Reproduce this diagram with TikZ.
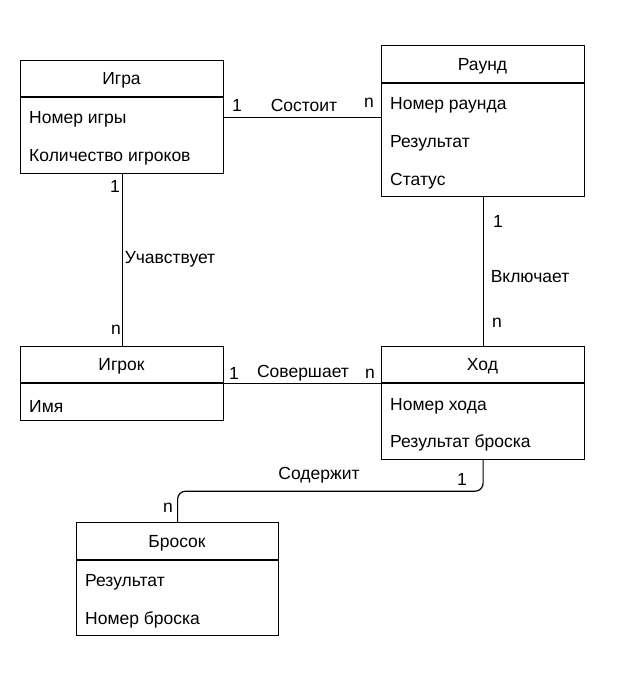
\documentclass[tikz,border=0pt]{standalone}
\usepackage{fontspec}
\setmainfont{Liberation Sans}
\usetikzlibrary{positioning}

\begin{document}
\begin{tikzpicture}[x=1pt, y=-1pt,
    entity/.style={draw, line width=1.2pt, anchor=north west, inner sep=0pt, minimum width=203pt},
    title/.style={font=\fontsize{17.5}{20}\selectfont, inner sep=0pt},
    attr/.style={font=\fontsize{17.5}{20}\selectfont, anchor=west, inner sep=0pt},
    rel/.style={font=\fontsize{17.5}{20}\selectfont, inner sep=0pt},
    link/.style={line width=1.2pt}]
    \useasboundingbox (0,0) rectangle (623,677);
    % Draw the entities
    \node[entity, minimum height=113pt] (igra) at (20,60) {};
    \node[entity, minimum height=151pt] (raund) at (381,45) {};
    \node[entity, minimum height=74pt] (igrok) at (20,346) {};
    \node[entity, minimum height=113pt] (hod) at (381,346) {};
    \node[entity, minimum height=113pt, minimum width=202pt] (brosok) at (76,522) {};
    % Draw header lines
    \draw[link] (igra.north west) ++(0,37) -- ++(203,0);
    \draw[link] (raund.north west) ++(0,38) -- ++(203,0);
    \draw[link] (igrok.north west) ++(0,37) -- ++(203,0);
    \draw[link] (hod.north west) ++(0,37) -- ++(203,0);
    \draw[link] (brosok.north west) ++(0,38) -- ++(202,0);
    % Titles and attributes
    \node[title] (igraT) at (121.5,80) {Игра};
    \node[attr] (igraA) at (29,119) {Номер игры};
    \node[attr] (igraB) at (29,157) {Количество игроков};
    \node[title] (raundT) at (482.5,66) {Раунд};
    \node[attr] (raundA) at (390,105) {Номер раунда};
    \node[attr] (raundB) at (390,143) {Результат};
    \node[attr] (raundC) at (390,181) {Статус};
    \node[title] (igrokT) at (121.5,366) {Игрок};
    \node[attr] (igrokA) at (29,406) {Имя};
    \node[title] (hodT) at (482.5,366) {Ход};
    \node[attr] (hodA) at (390,406) {Номер хода};
    \node[attr] (hodB) at (390,443) {Результат броска};
    \node[title] (brosokT) at (177,543) {Бросок};
    \node[attr] (brosokA) at (85,582) {Результат};
    \node[attr] (brosokB) at (85,620) {Номер броска};
    % Draw the relations
    \draw[link] (igra.east) -- (raund.west |- igra.east);
    \draw[link] (igra.south) -- (igrok.north);
    \draw[link] (raund.south) -- (hod.north);
    \draw[link] (igrok.east) -- (hod.west |- igrok.east);
    \draw[link, rounded corners=8pt] (hod.south) -- ++(0,31) -| (brosok.north);
    % Relation labels
    \node[rel] (r1a) at (237,105) {1};
    \node[rel] (r1) at (304,105) {Состоит};
    \node[rel] (r1b) at (369,103) {n};
    \node[rel] (r2a) at (115,186) {1};
    \node[rel] (r2) at (170,259) {Учавствует};
    \node[rel] (r2b) at (116,330) {n};
    \node[rel] (r3a) at (498,221) {1};
    \node[rel] (r3) at (530,277) {Включает};
    \node[rel] (r3b) at (497,323) {n};
    \node[rel] (r4a) at (234,373) {1};
    \node[rel] (r4) at (303,373) {Совершает};
    \node[rel] (r4b) at (370,374) {n};
    \node[rel] (r5) at (319,475) {Содержит};
    \node[rel] (r5a) at (462,479) {1};
    \node[rel] (r5b) at (168,508) {n};
\end{tikzpicture}
\end{document}
